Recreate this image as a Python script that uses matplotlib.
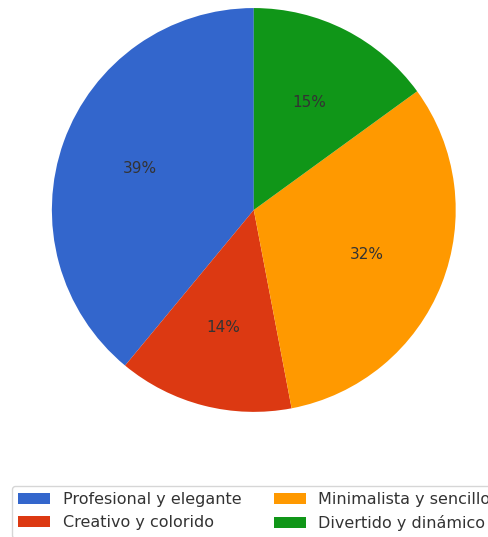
import matplotlib.pyplot as plt

# Survey answers: preferred design style
labels = ['Profesional y elegante', 'Creativo y colorido', 'Minimalista y sencillo', 'Divertido y dinámico']
shares = [39, 14, 32, 15]
colors = ['#3366CC', '#DC3912', '#FF9900', '#109618']

fig = plt.figure(figsize=(4.89, 5.37), dpi=100)
ax = fig.add_axes([0.106, 0.233, 0.826, 0.752])

wedges, texts, autotexts = ax.pie(
    shares,
    colors=colors,
    startangle=90,
    counterclock=True,
    autopct='%1.0f%%',
    pctdistance=0.6,
    textprops={'fontsize': 11, 'color': '#333333'},
)
ax.set_aspect('equal')
ax.set_xlim(-1, 1)
ax.set_ylim(-1, 1)

fig.legend(
    wedges, labels,
    loc='upper left',
    bbox_to_anchor=(0.0245, 0.095),
    borderaxespad=0,
    ncol=2,
    fontsize=11.5,
    frameon=True,
    labelcolor='#333333',
)

fig.savefig('out.png', dpi=100)
